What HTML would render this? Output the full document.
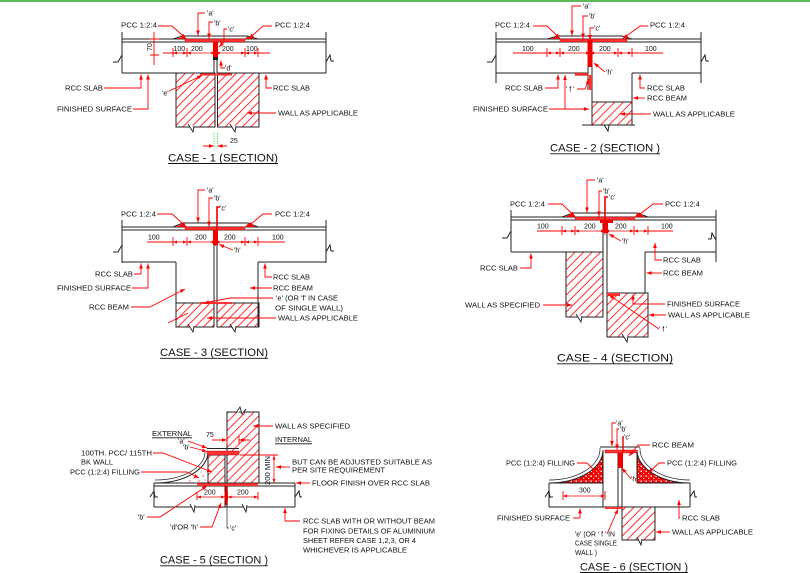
<!DOCTYPE html>
<html><head><meta charset="utf-8"><style>
html,body{margin:0;padding:0;background:#fff;}
svg{display:block;}
text{font-family:"Liberation Sans",sans-serif;font-size:7px;fill:#111;}
.t{font-size:11px;}
.k{stroke:#222;stroke-width:1;fill:none;}
.kt{stroke:#222;stroke-width:0.7;fill:none;}
.r{stroke:#f00;stroke-width:0.9;fill:none;}
.ra{stroke:#f00;stroke-width:0.9;fill:none;marker-end:url(#ar);}
.rd{stroke:#f00;stroke-width:0.8;fill:none;marker-start:url(#da);marker-end:url(#da);}
.hw{fill:url(#hat);stroke:#222;stroke-width:1;}
.st{fill:#f33;stroke:#a00;stroke-width:0.4;}
.u{stroke:#111;stroke-width:0.9;}
</style></head><body>
<svg width="810" height="573" viewBox="0 0 810 573" xmlns="http://www.w3.org/2000/svg">
<defs>
<marker id="ar" viewBox="0 0 8 6" refX="8" refY="3" markerUnits="userSpaceOnUse" markerWidth="5" markerHeight="4" orient="auto"><path d="M0,0L8,3L0,6z" fill="#f00"/></marker>
<marker id="da" viewBox="0 0 8 6" refX="8" refY="3" markerUnits="userSpaceOnUse" markerWidth="4" markerHeight="3" orient="auto-start-reverse"><path d="M0,0L8,3L0,6z" fill="#f00"/></marker>
<pattern id="hat" width="6" height="6" patternUnits="userSpaceOnUse" patternTransform="rotate(45)"><line x1="3" y1="0" x2="3" y2="6" stroke="#f33" stroke-width="1"/></pattern>
<pattern id="sp" width="5" height="5" patternUnits="userSpaceOnUse"><rect width="5" height="5" fill="#e00"/><circle cx="1.2" cy="1.2" r="0.8" fill="#fff"/><circle cx="3.6" cy="3.4" r="0.6" fill="#fff"/><circle cx="4" cy="0.8" r="0.4" fill="#fff"/></pattern>
</defs>
<rect x="0" y="0" width="810" height="2" fill="#5cb85c"/>

<!-- ================= CASE 1 ================= -->
<g>
<rect class="hw" x="176" y="73" width="39" height="54"/>
<rect class="hw" x="217.5" y="73" width="41.5" height="54"/>
<path class="k" d="M122,32V73 M326,32V73 M122,39H326 M122,42H326 M122,73H214 M217,73H326 M214,57V73 M217,57V73"/>
<path class="k" d="M113,62H118L122,55 M326,62L330,55L331,61H334"/>
<path d="M188,124L193,132L194,126 M230,124L235,132L236,126" stroke="#222" stroke-width="0.9" fill="#fff"/>
<rect class="st" x="185" y="39" width="60" height="3"/>
<path class="k" d="M173,39L183,36H247L258,39"/>
<polygon points="175,39 184,36.6 186,39" fill="#f00"/>
<polygon points="245,39 247,36.6 256,39" fill="#f00"/>
<rect x="213" y="42" width="5" height="15" fill="#e00"/>
<rect x="213" y="57" width="5" height="3" fill="#222"/>
<rect x="200" y="73.5" width="32" height="2" fill="#f33"/>
<!-- dims -->
<path class="r" d="M163,53H173 M258,53H270 M173,48V57 M187,48V57 M215.5,48V57 M245,48V57 M258,48V57"/>
<path class="rd" d="M173,53H187"/><path class="rd" d="M187,53H215.5"/><path class="rd" d="M215.5,53H245"/><path class="rd" d="M245,53H258"/>
<text x="173.5" y="51">100</text><text x="191" y="51">200</text><text x="222" y="51">200</text><text x="246" y="51">100</text>
<path class="r" d="M154,32V65 M150,39H159 M150,55H159"/>
<text transform="translate(152,51) rotate(-90)">70</text>
<path class="r" d="M203,146H214 M217.5,146H227" />
<path class="ra" d="M206,146H214"/><path class="ra" d="M225,146H217.5"/>
<path stroke="#5c5" stroke-width="0.8" stroke-dasharray="1.5,1" d="M214,133V148 M217.5,133V148"/>
<text x="230" y="143">25</text>
<!-- labels -->
<text x="207" y="15.5">'a'</text><text x="214" y="25.5">'b'</text><text x="228" y="31.5">'c'</text>
<text x="225" y="70.5">'d'</text><text x="162" y="95.5">'e'</text>
<text x="121" y="27.5" textLength="36" lengthAdjust="spacingAndGlyphs">PCC 1:2:4</text>
<text x="275" y="27.5" textLength="35" lengthAdjust="spacingAndGlyphs">PCC 1:2:4</text>
<text x="65" y="90.5" textLength="38" lengthAdjust="spacingAndGlyphs">RCC SLAB</text>
<text x="57" y="111.5" textLength="75" lengthAdjust="spacingAndGlyphs">FINISHED SURFACE</text>
<text x="273" y="90.5" textLength="37" lengthAdjust="spacingAndGlyphs">RCC SLAB</text>
<text x="278" y="115.5" textLength="80" lengthAdjust="spacingAndGlyphs">WALL AS APPLICABLE</text>
<path class="ra" d="M205,13H198V35.5"/>
<path class="ra" d="M213,22H209V38.5"/>
<path class="ra" d="M227,29H224V42L219,47"/>
<path class="ra" d="M158,26H172L186,38.5"/>
<path class="ra" d="M272,26H263L249,38.5"/>
<path class="ra" d="M225,68H221V60.5"/>
<path class="ra" d="M169,91L202,75.5"/>
<path class="ra" d="M104,88H141V74.5"/>
<path class="ra" d="M133,109H148V74.5"/>
<path class="ra" d="M272,88H266V74.5"/>
<path class="ra" d="M276,113H247"/>
<text class="t" x="168" y="161.3" textLength="110" lengthAdjust="spacingAndGlyphs">CASE - 1 (SECTION)</text>
<path class="u" d="M168,163.5H278"/>
</g>

<!-- ================= CASE 2 ================= -->
<g>
<rect class="hw" x="592" y="102" width="40" height="23"/>
<path class="k" d="M496,32V83 M701,32V83 M496,39H701 M496,42H701 M496,73H588 M632,73H701 M588,42V90 M592,42V125 M632,73V125 M592,102H632"/>
<path class="k" d="M487,62H492L496,55 M701,62L705,55L706,61H709"/>
<path class="k" d="M582,125H604L608,131L609,125H635"/>
<rect class="st" x="560" y="39" width="67" height="3"/>
<path class="k" d="M547,39L558,36H622L632,39"/>
<polygon points="549,39 558,36.6 560,39" fill="#f00"/>
<polygon points="627,39 622,36.6 631,39" fill="#f00"/>
<rect x="587.5" y="40" width="5" height="27" fill="#e00"/>
<rect x="575" y="73" width="13" height="2.5" fill="#f33" stroke="#a00" stroke-width="0.3"/>
<rect x="589" y="75" width="3" height="15" fill="#f33"/>
<!-- dims -->
<path class="r" d="M513,53H547 M632,53H663 M547,48V57 M560,48V57 M590,48V57 M618,48V57 M632,48V57"/>
<path class="rd" d="M547,53H560"/><path class="rd" d="M560,53H590"/><path class="rd" d="M590,53H618"/><path class="rd" d="M618,53H632"/>
<text x="522" y="51">100</text><text x="568" y="51">200</text><text x="599" y="51">200</text><text x="645" y="51">100</text>
<!-- labels -->
<text x="583" y="8.5">'a'</text><text x="589" y="18.5">'b'</text><text x="594" y="30.5">'c'</text>
<text x="606" y="74.5">'h'</text><text x="566" y="91.5">' f '</text>
<text x="495" y="27.5" textLength="35" lengthAdjust="spacingAndGlyphs">PCC 1:2:4</text>
<text x="650" y="27.5" textLength="35" lengthAdjust="spacingAndGlyphs">PCC 1:2:4</text>
<text x="505" y="90.5" textLength="38" lengthAdjust="spacingAndGlyphs">RCC SLAB</text>
<text x="473" y="111.5" textLength="75" lengthAdjust="spacingAndGlyphs">FINISHED SURFACE</text>
<text x="647" y="90.5" textLength="38" lengthAdjust="spacingAndGlyphs">RCC SLAB</text>
<text x="647" y="100.5" textLength="40" lengthAdjust="spacingAndGlyphs">RCC BEAM</text>
<text x="653" y="116.5" textLength="82" lengthAdjust="spacingAndGlyphs">WALL AS APPLICABLE</text>
<path class="ra" d="M581,6H572V35.5"/>
<path class="ra" d="M588,16H583V38.5"/>
<path class="ra" d="M594,28H590V40"/>
<path class="ra" d="M605,72L594,63"/>
<path class="ra" d="M577,89H585L589,79"/>
<path class="ra" d="M533,26H547L560,38.5"/>
<path class="ra" d="M648,26H640L623,38.5"/>
<path class="ra" d="M545,88H558V74.5"/>
<path class="ra" d="M549,109H589"/>
<path class="ra" d="M565,109V75"/>
<path class="ra" d="M645,88H640V74.5"/>
<path class="ra" d="M645,98H633"/>
<path class="ra" d="M651,114H620"/>
<text class="t" x="550" y="151.5" textLength="110" lengthAdjust="spacingAndGlyphs">CASE - 2 (SECTION )</text>
<path class="u" d="M550,153.8H660"/>
</g>

<!-- ================= CASE 3 ================= -->
<g>
<rect class="hw" x="176" y="303" width="38" height="24"/>
<rect class="hw" x="217" y="303" width="42" height="24"/>
<path class="k" d="M122,220V263 M326,220V263 M122,227H326 M122,230H326 M122,262H176 M176,262V327 M258,262H326 M258,262V327 M214,245V327 M217,245V327"/>
<path class="k" d="M113,252H118L122,245 M326,252L330,245L331,251H334"/>
<path d="M188,324L193,332L194,326 M230,324L235,332L236,326" stroke="#222" stroke-width="0.9" fill="#fff"/>
<rect class="st" x="185" y="227" width="60" height="3"/>
<path class="k" d="M173,227L183,223H248L258,227"/>
<polygon points="175,227 184,223.6 186,227" fill="#f00"/>
<polygon points="245,227 248,223.6 256,227" fill="#f00"/>
<rect x="213" y="230" width="5" height="15" fill="#e00"/>
<rect x="200" y="302" width="32" height="2" fill="#f33"/>
<!-- dims -->
<path class="r" d="M147,242H173 M258,242H285 M173,237V246 M187,237V246 M215.5,237V246 M245,237V246 M258,237V246"/>
<path class="rd" d="M173,242H187"/><path class="rd" d="M187,242H215.5"/><path class="rd" d="M215.5,242H245"/><path class="rd" d="M245,242H258"/>
<text x="148" y="239.5">100</text><text x="195" y="239.5">200</text><text x="224" y="239.5">200</text><text x="272" y="239.5">100</text>
<!-- labels -->
<text x="207" y="192.5">'a'</text><text x="214" y="200.5">'b'</text><text x="220" y="210.5">'c'</text><text x="234" y="252.5">'h'</text>
<text x="121" y="216.5" textLength="35" lengthAdjust="spacingAndGlyphs">PCC 1:2:4</text>
<text x="275" y="216.5" textLength="35" lengthAdjust="spacingAndGlyphs">PCC 1:2:4</text>
<text x="95" y="276.5" textLength="38" lengthAdjust="spacingAndGlyphs">RCC SLAB</text>
<text x="57" y="290.5" textLength="74" lengthAdjust="spacingAndGlyphs">FINISHED SURFACE</text>
<text x="89" y="309.5" textLength="40" lengthAdjust="spacingAndGlyphs">RCC BEAM</text>
<text x="273" y="279.5" textLength="37" lengthAdjust="spacingAndGlyphs">RCC SLAB</text>
<text x="273" y="290.5" textLength="40" lengthAdjust="spacingAndGlyphs">RCC BEAM</text>
<text x="276" y="300.5" textLength="62" lengthAdjust="spacingAndGlyphs">'e' (OR 'f' IN CASE</text>
<text x="275" y="310.5" textLength="68" lengthAdjust="spacingAndGlyphs">OF SINGLE WALL)</text>
<text x="278" y="320.5" textLength="80" lengthAdjust="spacingAndGlyphs">WALL AS APPLICABLE</text>
<path class="ra" d="M205,190H198V222.5"/>
<path class="ra" d="M213,198H209V226.5"/>
<path d="M220,207H217V230" stroke="#e00" stroke-width="1.6" fill="none"/>
<path class="ra" d="M233,250L219,244.5"/>
<path class="ra" d="M157,214H172L186,226.5"/>
<path class="ra" d="M272,214H263L248,226.5"/>
<path class="ra" d="M134,274H141V263.5"/>
<path class="ra" d="M132,288H148V263.5"/>
<path class="ra" d="M131,307H150L185,289"/>
<path class="ra" d="M272,277H265V263.5"/>
<path class="ra" d="M272,288H250"/>
<path class="ra" d="M273,298H230L204,303"/>
<path class="ra" d="M276,318H207"/>
<path class="r" d="M168,323L188,313"/>
<text class="t" x="160" y="356" textLength="108" lengthAdjust="spacingAndGlyphs">CASE - 3 (SECTION)</text>
<path class="u" d="M160,358.3H268"/>
</g>

<!-- ================= CASE 4 ================= -->
<g>
<rect class="hw" x="566" y="252" width="37" height="65"/>
<rect class="hw" x="607" y="293" width="41" height="44"/>
<path class="k" d="M511,210V252 M716,210V262 M511,217H716 M511,220H716 M511,252H603 M645,252H716 M603,220V317 M607,233V337 M645,252V293 M607,293H648"/>
<path class="k" d="M502,238H507L511,231 M716,240L712,233L711,239H708"/>
<path d="M576,314L581,322L582,316 M622,334L627,342L628,336" stroke="#222" stroke-width="0.9" fill="#fff"/>
<rect class="st" x="575" y="217" width="60" height="3"/>
<path class="k" d="M562,217L573,213H637L648,217"/>
<polygon points="564,217 573,213.6 575,217" fill="#f00"/>
<polygon points="635,217 637,213.6 646,217" fill="#f00"/>
<rect x="600" y="220" width="13" height="3" fill="#e00"/>
<rect x="603" y="220" width="5" height="13" fill="#e00"/>
<rect x="607" y="293" width="13" height="3" fill="#f33"/>
<!-- dims -->
<path class="r" d="M537,231H562 M648,231H673 M562,226V235 M575,226V235 M605,226V235 M634,226V235 M648,226V235"/>
<path class="rd" d="M562,231H575"/><path class="rd" d="M575,231H605"/><path class="rd" d="M605,231H634"/><path class="rd" d="M634,231H648"/>
<text x="537" y="228.5">100</text><text x="584" y="228.5">200</text><text x="615" y="228.5">200</text><text x="661" y="228.5">100</text>
<!-- labels -->
<text x="597" y="182.5">'a'</text><text x="603" y="193.5">'b'</text><text x="609" y="199.5">'c'</text>
<text x="622" y="243.5">'h'</text><text x="659" y="331.5">' f '</text>
<text x="510" y="206.5" textLength="35" lengthAdjust="spacingAndGlyphs">PCC 1:2:4</text>
<text x="665" y="206.5" textLength="35" lengthAdjust="spacingAndGlyphs">PCC 1:2:4</text>
<text x="480" y="270.5" textLength="38" lengthAdjust="spacingAndGlyphs">RCC SLAB</text>
<text x="663" y="262.5" textLength="38" lengthAdjust="spacingAndGlyphs">RCC SLAB</text>
<text x="663" y="275.5" textLength="40" lengthAdjust="spacingAndGlyphs">RCC BEAM</text>
<text x="465" y="307.5" textLength="75" lengthAdjust="spacingAndGlyphs">WALL AS SPECIFIED</text>
<text x="667" y="306.5" textLength="73" lengthAdjust="spacingAndGlyphs">FINISHED SURFACE</text>
<text x="668" y="317.5" textLength="82" lengthAdjust="spacingAndGlyphs">WALL AS APPLICABLE</text>
<path class="ra" d="M595,180H587V212.5"/>
<path class="ra" d="M602,191H599V216.5"/>
<path d="M608,197H605V220" stroke="#e00" stroke-width="1.6" fill="none"/>
<path class="ra" d="M621,241L609,234"/>
<path class="ra" d="M548,204H562L575,216.5"/>
<path class="ra" d="M663,204H653L637,216.5"/>
<path class="ra" d="M520,268H531V253.5"/>
<path class="ra" d="M662,260H655V243"/>
<path class="ra" d="M662,273H646.5"/>
<path class="ra" d="M543,305H572"/>
<path class="ra" d="M665,304H633V294.5"/>
<path class="ra" d="M666,315H649"/>
<path class="ra" d="M659,329L609,295"/>
<text class="t" x="557" y="361.5" textLength="116" lengthAdjust="spacingAndGlyphs">CASE - 4 (SECTION)</text>
<path class="u" d="M557,363.8H673"/>
</g>

<!-- ================= CASE 5 ================= -->
<g>
<path d="M208,452A53,31 0 0 1 155,483L208,483Z" fill="#fff"/>
<path d="M208,470 L208,483 L188,483 Q198,478 208,470Z" fill="#fff"/>
<rect class="hw" x="227" y="412" width="32" height="71"/>
<rect class="hw" x="208" y="455" width="17" height="28"/>
<path d="M236,413L240,407L242,414L246,409" stroke="#222" stroke-width="0.9" fill="#fff"/>
<g fill="#e00"><circle cx="194" cy="478" r="0.6"/><circle cx="199" cy="481" r="0.6"/><circle cx="203" cy="476" r="0.6"/><circle cx="190" cy="481" r="0.6"/><circle cx="205" cy="480" r="0.5"/><circle cx="201" cy="472" r="0.5"/></g>
<path class="k" d="M208,452A53,31 0 0 1 155,483"/>
<path class="kt" d="M205,452A50,28 0 0 1 155,480"/>
<path class="k" d="M207,448.5H239"/>
<rect class="st" x="207" y="451" width="32" height="4"/>
<path class="k" d="M154,483H295 M154,486H295 M154,483V507 M295,483V507 M154,507H295 M225,455V507 M227,455V507"/>
<path class="k" d="M150,497L154,491L155,497H158 M295,497L299,491L300,497H302"/>
<path d="M190,504L194,512L195,505 M242,504L246,512L247,505" stroke="#222" stroke-width="0.9" fill="#fff"/>
<rect x="197" y="483.3" width="61" height="2.7" fill="#f33"/>
<rect x="225" y="486" width="2.7" height="19" fill="#c00"/>
<!-- dims -->
<path class="r" d="M197,492V500 M225,492V500 M227.5,492V500 M258,492V500"/>
<path class="rd" d="M197,497H225"/><path class="rd" d="M227.5,497H258"/>
<text x="204" y="494.5">200</text><text x="237" y="494.5">200</text>
<path class="r" d="M212,440H227 M239,440H250 M227,436V444 M239,436V444"/>
<path class="ra" d="M215,440H227"/><path class="ra" d="M248,440H239"/>
<text x="206" y="437">75</text>
<path class="r" d="M240,455H278"/>
<path class="rd" d="M274,455.5V483"/>
<text transform="translate(270,485) rotate(-90)" textLength="29" lengthAdjust="spacingAndGlyphs">200 MIN</text>
<!-- labels -->
<text x="275" y="428.5" textLength="75" lengthAdjust="spacingAndGlyphs">WALL AS SPECIFIED</text>
<text x="275" y="442" textLength="37" lengthAdjust="spacingAndGlyphs">INTERNAL</text>
<path class="u" d="M275,443.8H312" stroke-width="0.7"/>
<text x="152" y="436" textLength="40" lengthAdjust="spacingAndGlyphs">EXTERNAL</text>
<path class="u" d="M152,437.8H192" stroke-width="0.7"/>
<text x="178" y="443.5">'a'</text><text x="183" y="449.5">'b'</text>
<text x="81" y="455.5" textLength="71" lengthAdjust="spacingAndGlyphs">100TH. PCC/ 115TH</text>
<text x="81" y="464.5" textLength="32" lengthAdjust="spacingAndGlyphs">BK WALL</text>
<text x="70" y="474.5" textLength="70" lengthAdjust="spacingAndGlyphs">PCC (1:2:4) FILLING</text>
<text x="292" y="464.5" textLength="140" lengthAdjust="spacingAndGlyphs">BUT CAN BE ADJUSTED SUITABLE AS</text>
<text x="292" y="472.5" textLength="93" lengthAdjust="spacingAndGlyphs">PER SITE REQUIREMENT</text>
<text x="312" y="485.5" textLength="118" lengthAdjust="spacingAndGlyphs">FLOOR FINISH OVER RCC SLAB</text>
<text x="303" y="523.5" textLength="132" lengthAdjust="spacingAndGlyphs">RCC SLAB WITH OR WITHOUT BEAM</text>
<text x="303" y="533.5" textLength="132" lengthAdjust="spacingAndGlyphs">FOR FIXING DETAILS OF ALUMINIUM</text>
<text x="303" y="543" textLength="113" lengthAdjust="spacingAndGlyphs">SHEET REFER CASE 1,2,3, OR 4</text>
<text x="303" y="552.5" textLength="104" lengthAdjust="spacingAndGlyphs">WHICHEVER IS APPLICABLE</text>
<text x="138" y="519.5">'b'</text>
<text x="170" y="529.5" textLength="28" lengthAdjust="spacingAndGlyphs">'d'OR 'h'</text>
<text x="230" y="530.5">'c'</text>
<path class="ra" d="M273,426H253"/>
<path class="ra" d="M188,441L207,448"/>
<path class="ra" d="M190,447L207,451.5"/>
<path class="ra" d="M153,453H163L212,472"/>
<path class="ra" d="M141,472H187L199,478"/>
<path class="ra" d="M290,467H276"/>
<path class="ra" d="M310,483H296"/>
<path class="ra" d="M300,521H285V508"/>
<path class="ra" d="M147,517H160L207,486"/>
<path class="ra" d="M200,527H212L221,503"/>
<path class="kt" d="M229,528H227V506"/>
<text class="t" x="160" y="563.5" textLength="108" lengthAdjust="spacingAndGlyphs">CASE - 5 (SECTION )</text>
<path class="u" d="M160,565.8H268"/>
</g>

<!-- ================= CASE 6 ================= -->
<g>
<path d="M603,450A54,33 0 0 1 549,483L603,483Z" fill="url(#sp)"/>
<path d="M637,450A53,33 0 0 0 690,483L637,483Z" fill="url(#sp)"/>
<rect class="hw" x="622" y="507" width="33" height="33"/>
<path d="M637,537L641,545L642,539" stroke="#222" stroke-width="0.9" fill="#fff"/>
<path class="k" d="M603,450A54,33 0 0 1 549,483 M637,450A53,33 0 0 0 690,483"/>
<path class="kt" d="M600,448A51,31 0 0 1 549,480 M640,448A50,31 0 0 0 690,480"/>
<path class="k" d="M600,447H640 M603,450V507 M637,450V483 M618,453V507 M622,453V507 M549,483H603 M637,483H690 M549,483V507 M690,483V507 M549,507H690"/>
<path class="k" d="M545,497L549,491L550,497H553 M690,497L694,491L695,497H697"/>
<rect class="st" x="605" y="450" width="32" height="3"/>
<rect x="618" y="453" width="5" height="15" fill="#e00"/>
<rect x="605" y="507" width="18" height="2" fill="#f33"/>
<!-- dims -->
<path class="r" d="M563,491V500 M605,491V500"/>
<path class="rd" d="M563,496H605"/>
<text x="579" y="492.5">300</text>
<!-- labels -->
<text x="616" y="425.5">'a'</text><text x="620" y="431.5">'b'</text><text x="624" y="439.5">'c'</text><text x="631" y="481.5">'h'</text>
<text x="652" y="447.5" textLength="42" lengthAdjust="spacingAndGlyphs">RCC BEAM</text>
<text x="506" y="465.5" textLength="69" lengthAdjust="spacingAndGlyphs">PCC (1:2:4) FILLING</text>
<text x="667" y="465.5" textLength="70" lengthAdjust="spacingAndGlyphs">PCC (1:2:4) FILLING</text>
<text x="497" y="520.5" textLength="73" lengthAdjust="spacingAndGlyphs">FINISHED SURFACE</text>
<text x="682" y="520.5" textLength="38" lengthAdjust="spacingAndGlyphs">RCC SLAB</text>
<text x="575" y="536.5" textLength="40" lengthAdjust="spacingAndGlyphs">'e' (OR ' f ' IN</text>
<text x="575" y="545.5" textLength="42" lengthAdjust="spacingAndGlyphs">CASE SINGLE</text>
<text x="575" y="555" textLength="22" lengthAdjust="spacingAndGlyphs">WALL )</text>
<text x="672" y="534.5" textLength="81" lengthAdjust="spacingAndGlyphs">WALL AS APPLICABLE</text>
<path class="ra" d="M616,423H612V446"/>
<path class="ra" d="M619,429H617V449.5"/>
<path d="M624,437H623V453" stroke="#e00" stroke-width="1.4" fill="none"/>
<path class="ra" d="M631,479L622,468"/>
<path class="ra" d="M650,445H638L629,456"/>
<path class="ra" d="M577,463H587L597,473"/>
<path class="ra" d="M665,463H659L648,473"/>
<path class="ra" d="M573,518H580V508.5"/>
<path class="ra" d="M680,518H679V500"/>
<path class="ra" d="M607,534L618,509"/>
<path class="ra" d="M670,532H656"/>
<text class="t" x="580" y="570.5" textLength="108" lengthAdjust="spacingAndGlyphs">CASE - 6 (SECTION )</text>
<path class="u" d="M580,572.5H688"/>
</g>
</svg>
</body></html>
